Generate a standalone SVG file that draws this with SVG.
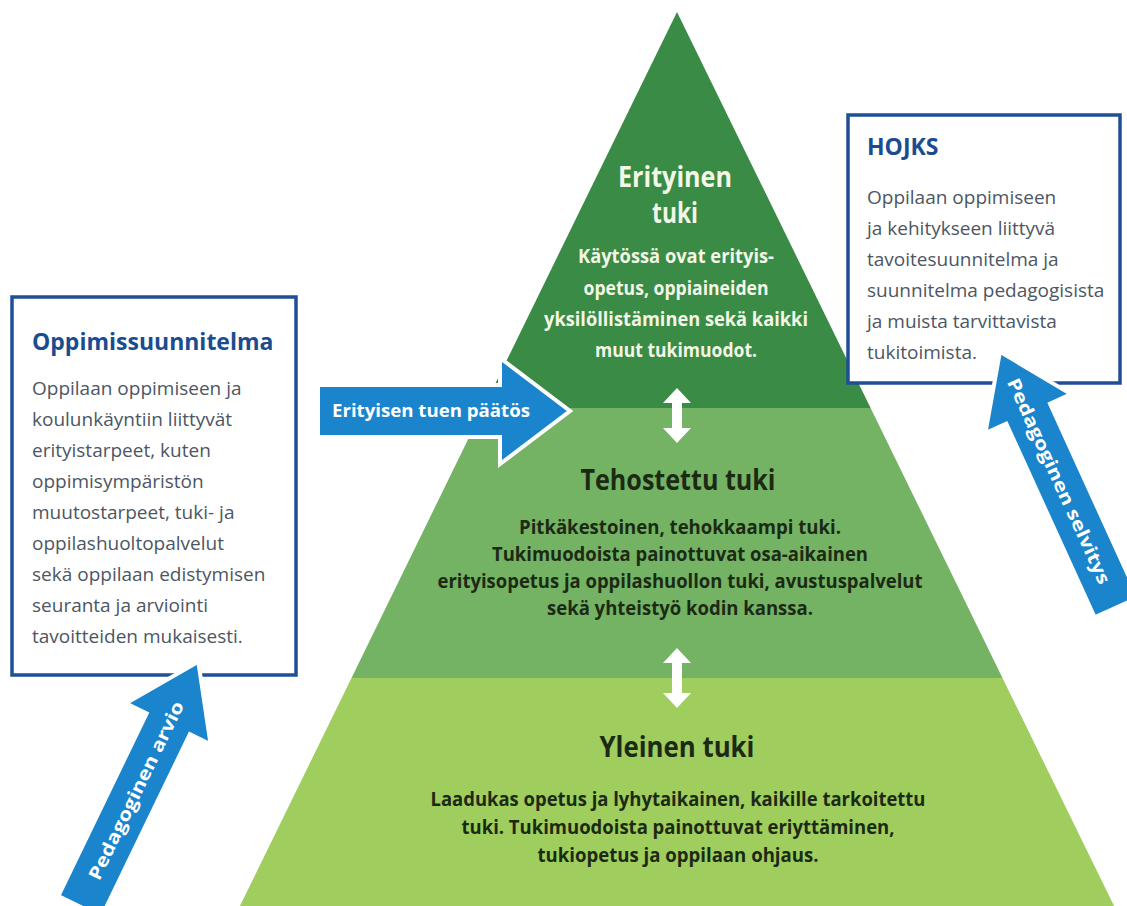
<svg xmlns="http://www.w3.org/2000/svg" width="1127" height="906" viewBox="0 0 1127 906">
<style>
.box{fill:#ffffff;stroke:#1f4f96;stroke-width:3.5}
.btitle{font-family:"Open Sans","Liberation Sans",sans-serif;font-weight:700;font-size:23px;fill:#1b4c8f}
.bbody{font-family:"Open Sans","Liberation Sans",sans-serif;font-weight:400;font-size:19px;fill:#4d5663}
.ptitle{font-family:"Open Sans","Liberation Sans",sans-serif;font-weight:700;font-size:28px;text-anchor:middle}
.pbody{font-family:"Open Sans","Liberation Sans",sans-serif;font-weight:700;font-size:19px;text-anchor:middle}
.light{fill:#f3f7e6}
.dark{fill:#1c2a14}
.blue{fill:#1a85cc;stroke:#ffffff;stroke-width:4;stroke-linejoin:miter}
.alabel{font-family:"Open Sans","Liberation Sans",sans-serif;font-weight:700;font-size:18px;fill:#ffffff}
.dbl{fill:#ffffff}
</style>
<rect width="1127" height="906" fill="#ffffff"/>
<g id="pyramid-yleinen">
<polygon points="351.5,678 1002.5,678 1118,914 236,914" fill="#9fcd5e"/>
<text class="ptitle dark" x="677" y="757" textLength="155" lengthAdjust="spacingAndGlyphs">Yleinen tuki</text>
<text class="pbody dark" x="678" y="806" textLength="495" lengthAdjust="spacingAndGlyphs">Laadukas opetus ja lyhytaikainen, kaikille tarkoitettu</text>
<text class="pbody dark" x="678" y="834" textLength="433" lengthAdjust="spacingAndGlyphs">tuki. Tukimuodoista painottuvat eriyttäminen,</text>
<text class="pbody dark" x="678" y="862" textLength="281" lengthAdjust="spacingAndGlyphs">tukiopetus ja oppilaan ohjaus.</text>
</g>
<g id="pyramid-tehostettu">
<polygon points="483.4,408 870.6,408 1002.5,678 351.5,678" fill="#74b264"/>
<text class="ptitle dark" x="678" y="490" textLength="195" lengthAdjust="spacingAndGlyphs">Tehostettu tuki</text>
<text class="pbody dark" x="680" y="534" textLength="322" lengthAdjust="spacingAndGlyphs">Pitkäkestoinen, tehokkaampi tuki.</text>
<text class="pbody dark" x="680" y="561" textLength="376" lengthAdjust="spacingAndGlyphs">Tukimuodoista painottuvat osa-aikainen</text>
<text class="pbody dark" x="680" y="588" textLength="485" lengthAdjust="spacingAndGlyphs">erityisopetus ja oppilashuollon tuki, avustuspalvelut</text>
<text class="pbody dark" x="680" y="615" textLength="266" lengthAdjust="spacingAndGlyphs">sekä yhteistyö kodin kanssa.</text>
</g>
<g id="pyramid-erityinen">
<polygon points="677,12 870.6,408 483.4,408" fill="#3a8b45"/>
<text class="ptitle light" x="675" y="187" textLength="114" lengthAdjust="spacingAndGlyphs">Erityinen</text>
<text class="ptitle light" x="675" y="223" textLength="46" lengthAdjust="spacingAndGlyphs">tuki</text>
<text class="pbody light" x="676" y="263" textLength="196" lengthAdjust="spacingAndGlyphs">Käytössä ovat erityis-</text>
<text class="pbody light" x="676" y="295" textLength="185" lengthAdjust="spacingAndGlyphs">opetus, oppiaineiden</text>
<text class="pbody light" x="676" y="326" textLength="264" lengthAdjust="spacingAndGlyphs">yksilöllistäminen sekä kaikki</text>
<text class="pbody light" x="676" y="357" textLength="162" lengthAdjust="spacingAndGlyphs">muut tukimuodot.</text>
</g>
<g id="box-oppimissuunnitelma">
<rect class="box" x="12" y="297" width="284" height="378"/>
<text class="btitle" x="32" y="350">Oppimissuunnitelma</text>
<text class="bbody" x="32" y="395">Oppilaan oppimiseen ja</text>
<text class="bbody" x="32" y="426">koulunkäyntiin liittyvät</text>
<text class="bbody" x="32" y="457">erityistarpeet, kuten</text>
<text class="bbody" x="32" y="488">oppimisympäristön</text>
<text class="bbody" x="32" y="519">muutostarpeet, tuki- ja</text>
<text class="bbody" x="32" y="550">oppilashuoltopalvelut</text>
<text class="bbody" x="32" y="581">sekä oppilaan edistymisen</text>
<text class="bbody" x="32" y="612">seuranta ja arviointi</text>
<text class="bbody" x="32" y="643">tavoitteiden mukaisesti.</text>
</g>
<g id="box-hojks">
<rect class="box" x="848" y="115" width="272" height="268"/>
<text class="btitle" x="867" y="155">HOJKS</text>
<text class="bbody" x="867" y="204">Oppilaan oppimiseen</text>
<text class="bbody" x="867" y="235">ja kehitykseen liittyvä</text>
<text class="bbody" x="867" y="266">tavoitesuunnitelma ja</text>
<text class="bbody" x="867" y="297">suunnitelma pedagogisista</text>
<text class="bbody" x="867" y="328">ja muista tarvittavista</text>
<text class="bbody" x="867" y="359">tukitoimista.</text>
</g>
<g id="connectors">
<polygon class="dbl" points="677,388 691,403 682,403 682,428 691,428 677,443 663,428 672,428 672,403 663,403"/>
<polygon class="dbl" points="677,648 691,663 682,663 682,693 691,693 677,708 663,693 672,693 672,663 663,663"/>
<g id="arrow-paatos">
<polygon class="blue" points="318,385 500,385 500,358 570,411 500,464 500,437 318,437"/>
<text class="alabel" x="332" y="417" textLength="198" lengthAdjust="spacingAndGlyphs">Erityisen tuen päätös</text>
</g>
<g id="arrow-arvio" transform="translate(86,894) rotate(-64.2)">
<polygon class="blue" points="-14,-24 189,-24 189,-47 258,0 189,47 189,24 -14,24" stroke="none"/>
<text class="alabel" x="115" y="6.5" text-anchor="middle" textLength="196" lengthAdjust="spacingAndGlyphs">Pedagoginen arvio</text>
</g>
<g id="arrow-selvitys">
<polygon class="blue" points="-6,-24 207,-24 207,-47 275,0 207,47 207,24 -6,24" stroke="none" transform="translate(1114,602) rotate(-114.5)"/>
<text class="alabel" text-anchor="middle" x="0" y="6.5" textLength="224" lengthAdjust="spacingAndGlyphs" transform="translate(1059,481) rotate(65.5)">Pedagoginen selvitys</text>
</g>
</g>
</svg>
